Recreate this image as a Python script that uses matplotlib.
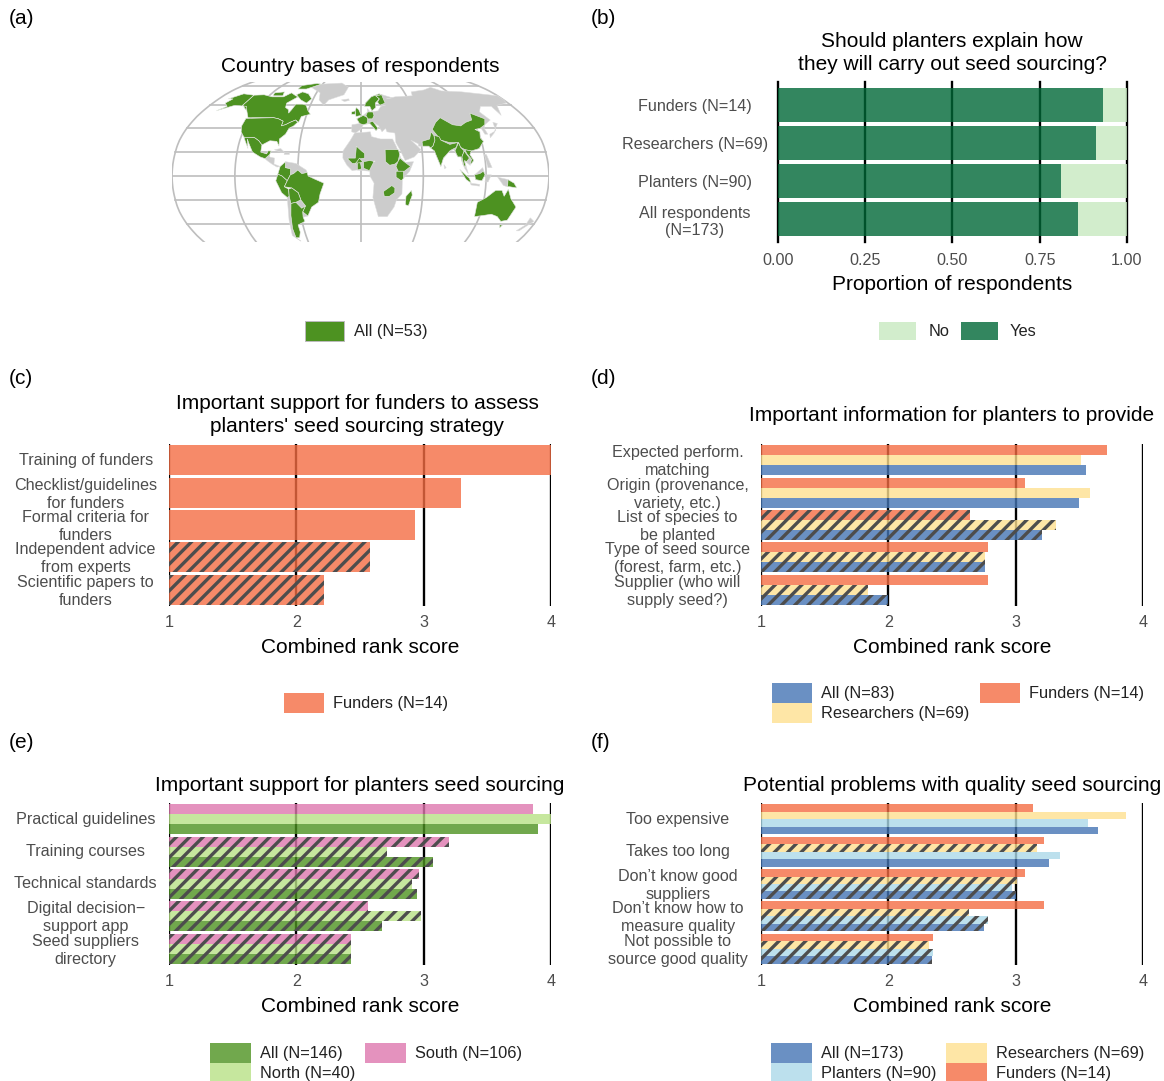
import numpy as np
import matplotlib
matplotlib.use('Agg')
import matplotlib.pyplot as plt
from matplotlib.patches import Patch
from matplotlib.transforms import ScaledTranslation

W, H = 1164, 1081
DPI = 120
plt.rcParams['font.family'] = ['Liberation Sans', 'DejaVu Sans']
plt.rcParams['hatch.linewidth'] = 2.0
plt.rcParams['hatch.color'] = '#4d4d4d'

# colours
BLUE = '#4575B4'
YELLOW = '#FEE090'
LBLUE = '#ABD9E9'
ORANGE = '#F46D43'
DGREEN = '#4D9221'
LGREEN = '#B8E186'
PINK = '#DE77AE'
YES = '#006837'
NO = '#C7E9C0'
GREY = '#4d4d4d'

# panel b
b_cats = ['Funders (N=14)', 'Researchers (N=69)', 'Planters (N=90)', 'All respondents\n(N=173)']
b_yes = [0.93, 0.91, 0.81, 0.86]

# panel c
c_cats = ['Training of funders', 'Checklist/guidelines\nfor funders', 'Formal criteria for\nfunders',
          'Independent advice\nfrom experts', 'Scientific papers to\nfunders']
c_funders = [4.0, 3.29, 2.93, 2.58, 2.22]
c_hatch = [0, 0, 0, 1, 1]

# panel d
d_cats = ['Expected perform.\nmatching', 'Origin (provenance,\nvariety, etc.)', 'List of species to\nbe planted',
          'Type of seed source\n(forest, farm, etc.)', 'Supplier (who will\nsupply seed?)']
d_funders = [3.72, 3.07, 2.64, 2.78, 2.78]
d_research = [3.51, 3.58, 3.32, 2.76, 1.84]
d_all = [3.55, 3.50, 3.21, 2.76, 2.00]
d_hatch_f = [0, 0, 1, 0, 0]
d_hatch_r = [0, 0, 1, 1, 1]
d_hatch_a = [0, 0, 1, 1, 1]

# panel e
e_cats = ['Practical guidelines', 'Training courses', 'Technical standards',
          'Digital decision\u2212\nsupport app', 'Seed suppliers\ndirectory']
e_south = [3.86, 3.20, 2.96, 2.56, 2.43]
e_north = [4.00, 2.71, 2.91, 2.98, 2.43]
e_all = [3.90, 3.07, 2.95, 2.67, 2.43]
e_hatch = [0, 1, 1, 1, 1]

# panel f
f_cats = ['Too expensive', 'Takes too long', 'Don\u2019t know good\nsuppliers',
          'Don\u2019t know how to\nmeasure quality', 'Not possible to\nsource good quality']
f_funders = [3.14, 3.22, 3.07, 3.22, 2.35]
f_research = [3.87, 3.17, 3.01, 2.63, 2.32]
f_planters = [3.57, 3.35, 2.97, 2.78, 2.35]
f_all = [3.65, 3.26, 3.00, 2.75, 2.34]
f_hatch_f = [0, 0, 0, 0, 0]
f_hatch_r = [0, 1, 1, 1, 1]
f_hatch_p = [0, 0, 1, 1, 1]
f_hatch_a = [0, 0, 1, 1, 1]

# rough country outlines, lon/lat
greenland = [(-73, 78), (-60, 82), (-30, 83.5), (-18, 78), (-22, 70), (-40, 65), (-44, 60), (-52, 65), (-55, 72)]
iceland = [(-24, 65), (-15, 66), (-14, 64.5), (-20, 63.5)]
central_am = [(-92, 14.5), (-88, 18), (-88, 16), (-83, 15), (-83, 10), (-77, 8), (-80, 7.5), (-85, 10), (-90, 13)]
cuba = [(-84, 22), (-78, 23), (-74, 20), (-78, 20)]
hispaniola = [(-74, 20), (-69, 19.5), (-69, 18), (-74, 18)]
venezuela = [(-72, 12), (-62, 10.5), (-52, 5), (-51, 3), (-56, 2), (-60, 5), (-64, 2), (-67, 1), (-67, 6), (-72, 7)]
paraguay = [(-63, -22), (-58, -20), (-54, -25), (-58, -27)]
uruguay = [(-57.5, -30), (-53, -33.5), (-58, -34.5)]
chile = [(-69, -17), (-68, -23), (-70, -33), (-72, -44), (-72, -52), (-68, -55), (-75, -50), (-73, -37), (-71, -18)]
africa = [(-17, 15), (-17, 21), (-10, 30), (-6, 36), (10, 37), (11, 33), (20, 31), (32, 31), (35, 25), (39, 15),
          (43, 11.5), (51, 12), (47, 4), (40, -3), (40, -15), (35, -20), (33, -26), (27, -34), (18, -34), (12, -18),
          (13, -6), (9, 0), (9, 4), (-4, 5), (-8, 4.5), (-13, 9)]
eurasia = [(-9, 37), (-9, 43), (-1, 44), (-4, 48), (3, 51), (8, 54), (8, 57), (11, 54), (20, 55), (24, 59), (30, 60),
           (23, 60), (21, 63), (24, 66), (18, 62), (18, 58), (13, 55), (11, 59), (5, 59), (6, 62), (14, 68), (25, 71),
           (41, 67), (33, 66), (45, 68), (68, 69), (70, 73), (90, 75), (104, 78), (113, 74), (140, 73), (180, 69),
           (180, 65), (178, 62), (163, 60), (156, 51), (155, 59), (142, 59), (135, 54), (140, 47), (131, 43), (128, 40),
           (129, 35), (126, 35), (125, 40), (118, 39), (122, 37), (120, 32), (122, 29), (116, 23), (108, 21), (106, 18),
           (109, 13), (105, 9), (100, 13), (103, 2), (100, 6), (98, 10), (97, 16), (94, 16), (91, 22), (87, 21), (80, 15),
           (77, 8), (73, 18), (72, 21), (67, 25), (57, 25), (57, 27), (50, 30), (56, 25), (59, 22), (52, 16), (43, 13),
           (39, 21), (35, 28), (35, 36), (27, 37), (26, 40), (22, 37), (19, 42), (14, 45), (18, 40), (16, 38), (10, 44),
           (3, 43), (0, 39), (-5, 36)]
borneo = [(109, 1), (117, 7), (119, 1), (116, -4), (110, -3)]
sulawesi = [(120, 1), (125, 1), (122, -5), (119, -5)]
java = [(105, -6), (114, -7), (114, -8.5), (106, -7.5)]
philippines = [(120, 18), (122, 18), (126, 7), (122, 7)]
west_guinea = [(131, -1), (141, -3), (141, -9), (137, -8)]
japan = [(130, 32), (136, 36), (141, 41), (145, 44), (141, 45), (139, 38), (131, 35)]
newzealand = [(172, -35), (178, -38), (170, -46), (167, -46), (172, -41)]
sri_lanka = [(80, 9.5), (82, 7), (80.5, 6)]

canada = [(-141, 69.6), (-128, 70), (-115, 68), (-100, 68), (-94, 72), (-85, 69), (-81, 68), (-90, 62), (-88, 58),
          (-83, 56), (-81, 53), (-79.5, 56), (-78, 61), (-70, 61), (-65, 60), (-60, 55), (-56, 52), (-65, 50), (-66, 45),
          (-70, 47), (-75, 45), (-79, 43), (-83, 42), (-83, 46), (-89, 48), (-95, 49), (-123, 49), (-130, 55), (-141, 60)]
baffin = [(-80, 73), (-70, 71), (-62, 66), (-66, 62), (-75, 65), (-85, 70)]
ellesmere = [(-90, 80), (-70, 83), (-62, 82), (-78, 76), (-90, 76)]
victoria = [(-117, 72), (-105, 73), (-102, 69), (-115, 69)]
usa = [(-124.7, 48.4), (-95, 49), (-89, 48), (-83, 46), (-83, 42), (-79, 43), (-75, 45), (-70, 47), (-67, 45), (-70, 42),
       (-74, 40), (-76, 35), (-81, 31), (-80, 25), (-83, 29), (-90, 29.5), (-97, 26), (-101, 29.5), (-106, 32), (-117, 32.5),
       (-122, 37), (-124.5, 42)]
alaska = [(-141, 69.6), (-141, 60), (-130, 55), (-135, 59), (-150, 60), (-165, 55), (-158, 59), (-165, 62), (-162, 66),
          (-168, 66), (-157, 71)]
mexico = [(-117, 32.5), (-106, 32), (-101, 29.5), (-97, 26), (-97, 20), (-91, 18.5), (-90, 21), (-87, 21), (-88, 18),
          (-92, 14.5), (-97, 16), (-105, 20), (-110, 27), (-113, 31), (-110, 23), (-115, 30)]
colombia = [(-77, 8), (-72, 12), (-72, 7), (-67, 6), (-67, 1), (-70, -4), (-75, 0), (-79, 1.5)]
peru = [(-81, -4), (-79, 1.5), (-75, 0), (-70, -4), (-73, -9), (-69, -11), (-69, -17), (-71, -18), (-76, -14)]
brazil = [(-70, -4), (-67, 1), (-64, 2), (-60, 5), (-56, 2), (-51, 3), (-50, 0), (-44, -2.5), (-35, -6), (-39, -15),
          (-41, -22), (-48, -26), (-53, -33.5), (-57.5, -30), (-54, -25), (-58, -20), (-60, -14), (-66, -10), (-73, -9)]
bolivia = [(-69, -11), (-66, -10), (-60, -14), (-58, -20), (-63, -22), (-68, -23), (-69, -17)]
argentina = [(-68, -23), (-63, -22), (-58, -27), (-54, -25), (-57.5, -30), (-58, -34.5), (-57, -38), (-65, -41), (-65, -47),
             (-68, -52), (-72, -52), (-72, -44), (-70, -33)]
mali = [(-12, 15), (-5, 15), (-4, 25), (1, 21), (4, 19), (4, 15), (0, 14.5), (-5, 10.5), (-8, 10.5), (-12, 14)]
burkina = [(-5, 10), (-1, 15), (2, 12), (0, 11)]
ghana = [(-3, 5), (1, 6), (0, 11), (-3, 11)]
nigeria = [(3, 6.5), (8.5, 4.5), (13.5, 13), (14, 12), (9, 13), (3, 12)]
sudan = [(24, 20), (24, 22), (37, 22), (38, 18), (36, 12), (33, 10), (28, 9), (24, 12)]
ethiopia = [(36, 12), (38, 15), (42, 12), (48, 8), (42, 4), (36, 4), (34, 8)]
kenya = [(34, 4), (41, 4), (41, -2), (39, -4), (34, -1)]
zambia = [(22, -13), (30, -8), (33, -10), (33, -14), (28, -17), (23, -17)]
madagascar = [(49, -12), (50, -16), (47, -25), (44, -24), (44, -17)]
china = [(74, 39), (80, 45), (87, 49), (97, 43), (105, 42), (112, 45), (120, 47), (123, 53), (135, 48), (131, 43), (124, 40),
         (118, 39), (122, 37), (120, 32), (122, 29), (116, 23), (108, 21), (102, 22), (98, 24), (97, 28), (88, 28), (80, 30)]
india = [(74, 34), (79, 33), (80, 30), (88, 26.5), (96, 28), (94, 24), (89, 22), (87, 21), (80, 15), (77, 8), (73, 18), (72, 21),
         (68.5, 23.5), (71, 25), (74, 30)]
pakistan = [(61, 25), (67, 25), (68.5, 23.5), (71, 25), (74, 30), (74, 34), (72, 37), (69, 31), (61, 29)]
myanmar = [(92, 21), (97, 28), (98, 24), (101, 21), (98, 16), (98, 10), (97, 16), (94, 16)]
thailand = [(98, 16), (101, 21), (105, 15), (102, 12), (100, 13), (101, 7), (99, 9)]
vietnam = [(102, 22), (108, 21), (106, 18), (109, 13), (105, 9), (107, 14), (103, 19)]
sumatra = [(95, 5.5), (104, -2), (106, -6), (101, -3)]
kalimantan = [(110, -3), (109, 1), (114, 2), (117.5, 4), (119, 1), (116, -4)]
png = [(141, -3), (147, -6), (150, -10), (143, -9), (141, -9)]
australia = [(114, -22), (122, -18), (130, -12), (136, -12), (139, -17), (142, -11), (146, -19), (153, -26), (150, -37),
             (144, -38), (138, -34), (131, -32), (124, -33), (115, -34)]
tasmania = [(145, -41), (148, -41), (147, -43.5)]
scandinavia = [(5, 59), (6, 62), (14, 68), (25, 71), (28, 70), (20, 69), (24, 66), (18, 62), (18, 58), (13, 55), (11, 59)]
finland = [(24, 66), (20, 69), (28, 70), (30, 62), (23, 60), (21, 63)]
ireland = [(-10, 52), (-6, 52), (-6, 55), (-10, 54)]
uk = [(-5, 50), (1, 51), (-2, 56), (-5, 58), (-6, 55)]
france = [(-4, 48), (3, 51), (8, 49), (7, 44), (3, 43), (-1, 44)]
germany = [(6, 51), (8, 54), (14, 54), (15, 51), (13, 48), (8, 48)]
italy = [(7, 44), (13, 46), (14, 45), (18, 40), (16, 38), (10, 44)]

grey_land = [greenland, iceland, central_am, cuba, hispaniola, venezuela, paraguay, uruguay, chile, africa, eurasia,
             borneo, sulawesi, java, philippines, west_guinea, japan, newzealand, sri_lanka]
respondent_land = [canada, baffin, ellesmere, victoria, usa, alaska, mexico, colombia, peru, brazil, bolivia, argentina,
                   mali, burkina, ghana, nigeria, sudan, ethiopia, kenya, zambia, madagascar, china, india, pakistan,
                   myanmar, thailand, vietnam, sumatra, kalimantan, png, australia, tasmania, scandinavia, finland,
                   ireland, uk, france, germany, italy]

# Robinson projection table
rob_lat = np.arange(0, 95, 5)
rob_x = [1, .9986, .9954, .99, .9822, .973, .96, .9427, .9216, .8962, .8679, .835, .7986, .7597, .7186, .6732, .6213, .5722, .5322]
rob_y = [0, .062, .124, .186, .248, .31, .372, .434, .4958, .5571, .6176, .6769, .7346, .7903, .8435, .8936, .9394, .9761, 1]


def robinson(lon, lat):
    lon, lat = np.asarray(lon, float), np.asarray(lat, float)
    return lon * np.interp(np.abs(lat), rob_lat, rob_x), np.sign(lat) * np.interp(np.abs(lat), rob_lat, rob_y)


def px_axes(x0, y0, x1, y1):
    # pixel box, y measured from the top
    return fig.add_axes([x0 / W, 1 - y1 / H, (x1 - x0) / W, (y1 - y0) / H])


def ftext(x, y, s, **kw):
    kw.setdefault('ha', 'center')
    kw.setdefault('va', 'center')
    fig.text(x / W, 1 - y / H, s, **kw)


def nudge_labels(ax, px):
    for lbl in ax.get_yticklabels():
        lbl.set_transform(lbl.get_transform() + ScaledTranslation(0, px / DPI, fig.dpi_scale_trans))


def rank_panel(box, cats, series, xlabel='Combined rank score', pad=50):
    ax = px_axes(*box)
    n = len(cats)
    k = len(series)
    h = 0.92 / k
    y = np.arange(1, n + 1)
    for j, (vals, col, hatch) in enumerate(series):
        pos = y - 0.46 + h * (j + 0.5)
        ax.barh(pos, np.array(vals) - 1, left=1, height=h, color=col, alpha=0.8, lw=0, zorder=2)
        hv = [v if f else np.nan for v, f in zip(vals, hatch)]
        ax.barh(pos, np.array(hv) - 1, left=1, height=h, facecolor='none', edgecolor=GREY, hatch='///', lw=0, zorder=3)
    ax.set_xlim(1, 4)
    ax.set_ylim(n + 0.5, 0.5)
    ax.set_xticks([1, 2, 3, 4])
    ax.set_yticks(y)
    ax.set_yticklabels(cats, ha='center', ma='center', linespacing=1.25)
    ax.tick_params(axis='y', length=0, pad=pad, labelsize=9.7, labelcolor=GREY)
    ax.tick_params(axis='x', length=0, pad=5.5, labelsize=9.7, labelcolor=GREY)
    nudge_labels(ax, 1.5)
    ax.xaxis.grid(True, color='black', lw=1.4, zorder=1)
    ax.set_axisbelow(True)
    for s in ax.spines.values():
        s.set_visible(False)
    ax.set_xlabel(xlabel, fontsize=12.5, labelpad=4.5)
    return ax


def legend(x, y, handles, ncol=1, columnspacing=0.6, hl=2.5, hh=1.5, tp=0.55):
    fig.legend(handles=handles, loc='center', bbox_to_anchor=(x / W, 1 - y / H), ncol=ncol, frameon=False, fontsize=9.8,
               handlelength=hl, handleheight=hh, handletextpad=tp, labelspacing=0.0, columnspacing=columnspacing,
               borderpad=0, labelcolor='#222222')


def key(col, label):
    return Patch(facecolor=col, alpha=0.8, edgecolor='none', label=label)


fig = plt.figure(figsize=(W / DPI, H / DPI), dpi=DPI)

# (a) map
ax = px_axes(172, 82, 549, 242)
ax.set_xlim(-180, 180)
ax.set_ylim(-66 / 96.3, 94 / 96.3)
ax.axis('off')
for lat in range(-80, 81, 20):
    gx, gy = robinson([-180, 180], [lat, lat])
    ax.plot(gx, gy, color='#BEBEBE', lw=1.0, zorder=1)
for lon in range(-180, 181, 60):
    glat = np.linspace(-90, 90, 91)
    gx, gy = robinson(np.full(91, lon), glat)
    ax.plot(gx, gy, color='#BEBEBE', lw=1.0, zorder=1)
for shape in grey_land:
    gx, gy = robinson(*zip(*shape))
    ax.fill(gx, gy, color='#CCCCCC', ec='#DDDDDD', lw=0.3, zorder=2)
for shape in respondent_land:
    gx, gy = robinson(*zip(*shape))
    ax.fill(gx, gy, fc=DGREEN, ec='#E8E8E8', lw=0.35, zorder=3)

# (b)
ax = px_axes(778, 82, 1127, 242)
yb = np.arange(1, 5)
ax.barh(yb, b_yes, height=0.9, color=YES, alpha=0.8, lw=0, zorder=2)
ax.barh(yb, 1 - np.array(b_yes), left=b_yes, height=0.9, color=NO, alpha=0.8, lw=0, zorder=2)
ax.set_xlim(0, 1)
ax.set_ylim(4.6, 0.4)
ax.set_xticks([0, 0.25, 0.5, 0.75, 1])
ax.set_xticklabels(['0.00', '0.25', '0.50', '0.75', '1.00'])
ax.set_yticks(yb)
ax.set_yticklabels(b_cats, ha='center', ma='center', linespacing=1.2)
ax.tick_params(axis='y', length=0, pad=50, labelsize=9.7, labelcolor=GREY)
ax.tick_params(axis='x', length=0, pad=6.5, labelsize=9.7, labelcolor=GREY)
ax.xaxis.grid(True, color='black', lw=1.4, zorder=1, clip_on=False)
ax.set_axisbelow(True)
for s in ax.spines.values():
    s.set_visible(False)
ax.set_xlabel('Proportion of respondents', fontsize=12.5, labelpad=4.2)

# (c) to (f)
rank_panel((169, 444, 551, 606), c_cats, [(c_funders, ORANGE, c_hatch)], pad=50)
rank_panel((761, 444, 1143, 606), d_cats,
           [(d_funders, ORANGE, d_hatch_f), (d_research, YELLOW, d_hatch_r), (d_all, BLUE, d_hatch_a)], pad=50)
rank_panel((169, 803, 551, 965), e_cats,
           [(e_south, PINK, e_hatch), (e_north, LGREEN, e_hatch), (e_all, DGREEN, e_hatch)], pad=50)
rank_panel((761, 803, 1143, 965), f_cats,
           [(f_funders, ORANGE, f_hatch_f), (f_research, YELLOW, f_hatch_r),
            (f_planters, LBLUE, f_hatch_p), (f_all, BLUE, f_hatch_a)], pad=50)

# titles and panel letters
ftext(360, 66, 'Country bases of respondents', fontsize=12.5)
ftext(952, 53, 'Should planters explain how\nthey will carry out seed sourcing?', fontsize=12.5, linespacing=1.28)
ftext(357, 415, 'Important support for funders to assess\nplanters\' seed sourcing strategy', fontsize=12.5, linespacing=1.28)
ftext(952, 416, 'Important information for planters to provide', fontsize=12.5)
ftext(360, 785.5, 'Important support for planters seed sourcing', fontsize=12.5)
ftext(952, 785.5, 'Potential problems with quality seed sourcing', fontsize=12.5)
for lab, x, y in [('(a)', 9, 19), ('(b)', 591, 19), ('(c)', 9, 378), ('(d)', 591, 378), ('(e)', 9, 743), ('(f)', 591, 743)]:
    ftext(x, y, lab, fontsize=12.5, ha='left')

# legends
legend(366, 331, [Patch(facecolor=DGREEN, edgecolor='#BBBBBB', lw=0.6, label='All (N=53)')], hl=2.4, tp=0.6)
legend(958, 331, [key(NO, 'No'), key(YES, 'Yes')], ncol=2, hl=2.26, hh=1.3, columnspacing=0.7, tp=0.75)
legend(366, 703, [key(ORANGE, 'Funders (N=14)')])
legend(958, 703, [key(BLUE, 'All (N=83)'), key(YELLOW, 'Researchers (N=69)'), key(ORANGE, 'Funders (N=14)')], ncol=2)
legend(366, 1063, [key(DGREEN, 'All (N=146)'), key(LGREEN, 'North (N=40)'), key(PINK, 'South (N=106)')], ncol=2)
legend(958, 1063, [key(BLUE, 'All (N=173)'), key(LBLUE, 'Planters (N=90)'), key(YELLOW, 'Researchers (N=69)'),
                   key(ORANGE, 'Funders (N=14)')], ncol=2)

fig.savefig('out.png', dpi=DPI)
